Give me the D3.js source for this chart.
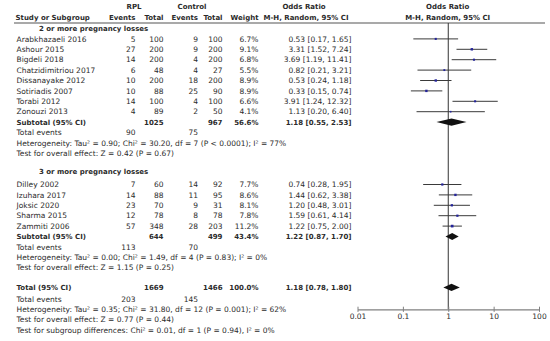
<!DOCTYPE html>
<html>
<head>
<meta charset="utf-8">
<script src="https://cdn.jsdelivr.net/npm/d3@7"></script>
<style>
  body { margin: 0; background: #fff; }
  svg { font-family: "DejaVu Sans", sans-serif; font-size: 7.5px; fill: #2b2b2b; }
  .b { font-weight: bold; font-size: 7px; }
</style>
</head>
<body>
<div id="forest"></div>
<script>
// 2 or more pregnancy losses
const studies1 = ['Arabkhazaeli 2016', 'Ashour 2015', 'Bigdeli 2018', 'Chatzidimitriou 2017',
  'Dissanayake 2012', 'Sotiriadis 2007', 'Torabi 2012', 'Zonouzi 2013']
const rplEvents1 = [5, 27, 14, 6, 10, 10, 14, 4]
const rplTotal1 = [100, 200, 200, 48, 200, 88, 100, 89]
const ctrlEvents1 = [9, 9, 4, 4, 18, 25, 4, 2]
const ctrlTotal1 = [100, 200, 200, 27, 200, 90, 100, 50]
const weight1 = [6.7, 9.1, 6.8, 5.5, 8.9, 8.9, 6.6, 4.1]
const or1 = [0.53, 3.31, 3.69, 0.82, 0.53, 0.33, 3.91, 1.13]
const lo1 = [0.17, 1.52, 1.19, 0.21, 0.24, 0.15, 1.24, 0.20]
const hi1 = [1.65, 7.24, 11.41, 3.21, 1.18, 0.74, 12.32, 6.40]

// 3 or more pregnancy losses
const studies2 = ['Dilley 2002', 'Izuhara 2017', 'Joksic 2020', 'Sharma 2015', 'Zammiti 2006']
const rplEvents2 = [7, 14, 23, 12, 57]
const rplTotal2 = [60, 88, 70, 78, 348]
const ctrlEvents2 = [14, 11, 9, 8, 28]
const ctrlTotal2 = [92, 95, 31, 78, 203]
const weight2 = [7.7, 8.6, 8.1, 7.8, 11.2]
const or2 = [0.74, 1.44, 1.20, 1.59, 1.22]
const lo2 = [0.28, 0.62, 0.48, 0.61, 0.75]
const hi2 = [1.95, 3.38, 3.01, 4.14, 2.00]

// subtotals / total: [group1, group2, overall]
const pooledLabel = ['Subtotal (95% CI)', 'Subtotal (95% CI)', 'Total (95% CI)']
const pooledRplTotal = [1025, 644, 1669]
const pooledCtrlTotal = [967, 499, 1466]
const pooledWeight = ['56.6%', '43.4%', '100.0%']
const pooledOr = [1.18, 1.22, 1.18]
const pooledLo = [0.55, 0.87, 0.78]
const pooledHi = [2.53, 1.70, 1.80]
const pooledRplEvents = [90, 113, 203]
const pooledCtrlEvents = [75, 70, 145]
const heterogeneity = [
  'Heterogeneity: Tau² = 0.90; Chi² = 30.20, df = 7 (P < 0.0001); I² = 77%',
  'Heterogeneity: Tau² = 0.00; Chi² = 1.49, df = 4 (P = 0.83); I² = 0%',
  'Heterogeneity: Tau² = 0.35; Chi² = 31.80, df = 12 (P = 0.001); I² = 62%'
]
const overallTest = [
  'Test for overall effect: Z = 0.42 (P = 0.67)',
  'Test for overall effect: Z = 1.15 (P = 0.25)',
  'Test for overall effect: Z = 0.77 (P = 0.44)'
]
const subgroupTest = 'Test for subgroup differences: Chi² = 0.01, df = 1 (P = 0.94), I² = 0%'
const groupTitles = ['2 or more pregnancy losses', '3 or more pregnancy losses']
const axisTicks = [0.01, 0.1, 1, 10, 100]

const width = 550
const height = 341

const svg = d3.select('#forest').append('svg')
  .attr('width', width)
  .attr('height', height)

// row slot -> y (centre of the text line)
const y = d3.scaleLinear().domain([0, 1]).range([28.5, 38.9])
const x = d3.scaleLog().domain([0.01, 100]).range([357.5, 539])

// column right edges
const col = { left: 16.5, title: 39, rplEv: 135.5, rplTot: 163.5, ctlEv: 198, ctlTot: 222.5, w: 258.5, or: 351.5 }

const fmt = d3.format('.2f')
const ciText = (o, l, h) => `${fmt(o)} [${fmt(l)}, ${fmt(h)}]`

function text (xp, yp, str, anchor, bold) {
  svg.append('text')
    .attr('x', xp)
    .attr('y', yp)
    .attr('dy', '0.35em')
    .attr('text-anchor', anchor || 'start')
    .attr('class', bold ? 'b' : null)
    .text(str)
}

// header
text(134, 7, 'RPL', 'middle', true)
text(192, 7, 'Control', 'middle', true)
text(304, 7, 'Odds Ratio', 'middle', true)
text(447.7, 7, 'Odds Ratio', 'middle', true)
text(col.left - 1, 17.5, 'Study or Subgroup', 'start', true)
text(col.rplEv, 17.5, 'Events', 'end', true)
text(col.rplTot, 17.5, 'Total', 'end', true)
text(col.ctlEv, 17.5, 'Events', 'end', true)
text(col.ctlTot, 17.5, 'Total', 'end', true)
text(col.w, 17.5, 'Weight', 'end', true)
text(col.or - 3, 17.5, 'M-H, Random, 95% CI', 'end', true)
text(447.7, 17.5, 'M-H, Random, 95% CI', 'middle', true)

svg.append('line')
  .attr('x1', 14).attr('x2', 545)
  .attr('y1', 23).attr('y2', 23)
  .style('stroke', '#555')
  .style('stroke-width', 1.2)

// vertical line of no effect
svg.append('line')
  .attr('x1', x(1)).attr('x2', x(1))
  .attr('y1', 23).attr('y2', 309.3)
  .style('stroke', '#333')
  .style('stroke-width', 1)

function drawStudies (slots, studies, rE, rT, cE, cT, w, or, lo, hi) {
  studies.forEach((s, i) => {
    const yy = y(slots[i])
    text(col.left, yy, s)
    text(col.rplEv, yy, rE[i], 'end')
    text(col.rplTot, yy, rT[i], 'end')
    text(col.ctlEv, yy, cE[i], 'end')
    text(col.ctlTot, yy, cT[i], 'end')
    text(col.w, yy, w[i].toFixed(1) + '%', 'end')
    text(col.or, yy, ciText(or[i], lo[i], hi[i]), 'end')

    svg.append('line')
      .attr('x1', x(lo[i])).attr('x2', x(hi[i]))
      .attr('y1', yy).attr('y2', yy)
      .style('stroke', '#3a3a3a')
      .style('stroke-width', 1)
    const side = Math.sqrt(w[i]) * 0.8
    svg.append('rect')
      .attr('x', x(or[i]) - side / 2)
      .attr('y', yy - side / 2)
      .attr('width', side)
      .attr('height', side)
      .style('fill', '#23239a')
  })
}

function drawPooled (k, slot) {
  const yy = y(slot)
  text(col.left, yy, pooledLabel[k], 'start', true)
  text(col.rplTot, yy, pooledRplTotal[k], 'end', true)
  text(col.ctlTot, yy, pooledCtrlTotal[k], 'end', true)
  text(col.w, yy, pooledWeight[k], 'end', true)
  text(col.or, yy, ciText(pooledOr[k], pooledLo[k], pooledHi[k]), 'end', true)
  const h = 3.6
  const pts = [[x(pooledLo[k]), yy], [x(pooledOr[k]), yy - h], [x(pooledHi[k]), yy], [x(pooledOr[k]), yy + h]]
  svg.append('path')
    .attr('d', d3.line()(pts) + 'Z')
    .style('fill', '#111')

  const base = slot + (k === 2 ? 1.1 : 1)
  text(col.left, y(base), 'Total events')
  text(col.rplEv, y(base), pooledRplEvents[k], 'end')
  text(col.ctlEv, y(base), pooledCtrlEvents[k], 'end')
  text(col.left, y(base + 1), heterogeneity[k])
  text(col.left, y(base + 2), overallTest[k])
}

// group 1
text(col.title, y(0), groupTitles[0], 'start', true)
drawStudies(d3.range(1, 9), studies1, rplEvents1, rplTotal1, ctrlEvents1, ctrlTotal1, weight1, or1, lo1, hi1)
drawPooled(0, 9)

// group 2
text(col.title, y(13.75), groupTitles[1], 'start', true)
drawStudies(d3.range(15, 20), studies2, rplEvents2, rplTotal2, ctrlEvents2, ctrlTotal2, weight2, or2, lo2, hi2)
drawPooled(1, 20)

// overall
drawPooled(2, 24.9)
text(col.left, y(29), subgroupTest)

// axis
const axis = d3.axisBottom(x)
  .tickValues(axisTicks)
  .tickFormat(d => String(d))
  .tickSizeOuter(0)
  .tickSizeInner(0)
const gAxis = svg.append('g')
  .attr('transform', 'translate(0, 309.3)')
  .call(axis)
gAxis.select('.domain').style('stroke', '#808080').style('stroke-width', 1.2)
gAxis.selectAll('.tick line')
  .attr('y1', -2.6).attr('y2', 2.6)
  .style('stroke', '#808080')
gAxis.selectAll('.tick text')
  .attr('y', 7)
  .attr('dy', '0.35em')
  .style('font-family', '"DejaVu Sans", sans-serif')
  .style('font-size', '7.5px')
  .style('fill', '#2b2b2b')
</script>
</body>
</html>
